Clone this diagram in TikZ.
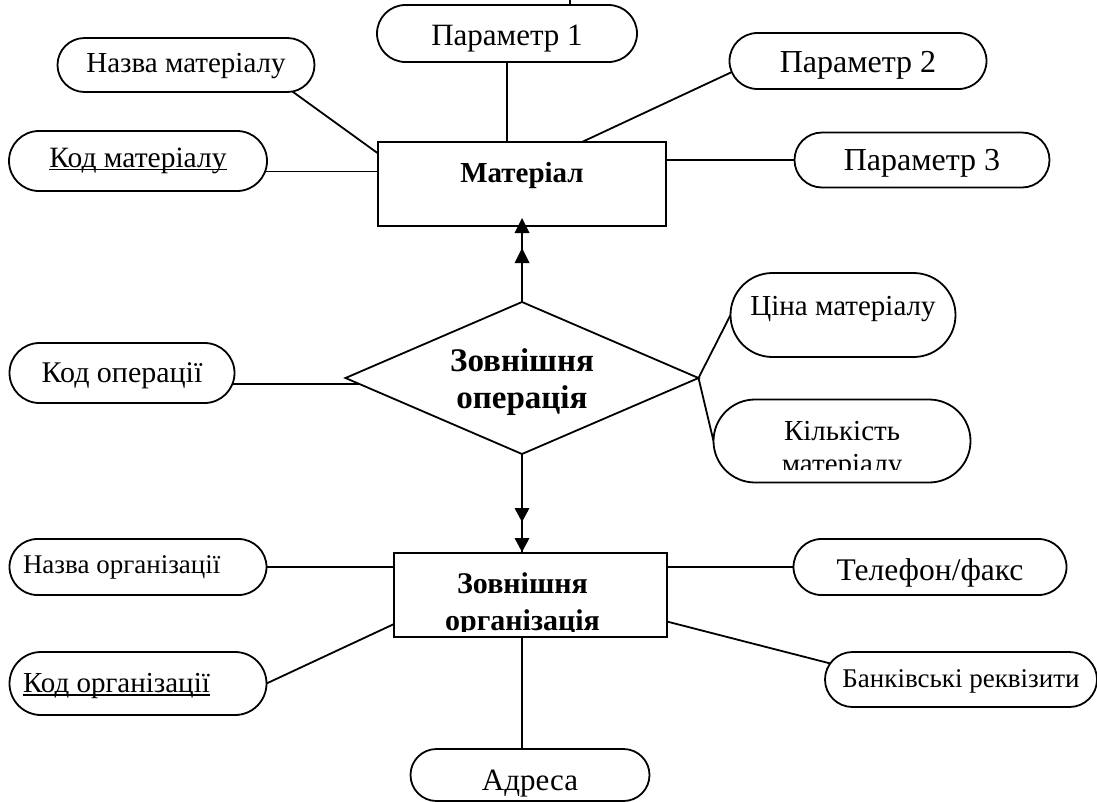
\documentclass[tikz,border=0pt]{standalone}
\usepackage{fontspec}
\setmainfont{Liberation Serif}
\usetikzlibrary{shapes.misc,shapes.geometric,backgrounds,calc}

% zero-width text so the shape keeps its own size
\newcommand\zw[1]{\makebox[0pt]{#1}}
% text starting at a given offset from the node centre
\newcommand\zwl[2]{\makebox[0pt][l]{\hspace{#1}#2}}
% underline close to the baseline
\newcommand\wordul[1]{\setbox0\hbox{#1}\rlap{\rule[-3pt]{\wd0}{1.4pt}}\box0}

\begin{document}
\begin{tikzpicture}[x=1pt,y=-1pt,line width=1.8pt,
  fs/.style={font=\fontsize{#1}{#1}\selectfont},
  fb/.style={font=\bfseries\fontsize{#1}{#1}\selectfont},
  bl/.code={\pgfmathsetmacro\blh{20+#1}\pgfmathsetmacro\bld{20-#1}%
    \edef\tmp{\noexpand\tikzset{text height=\blh pt, text depth=\bld pt}}\tmp},
  attr/.style={rounded rectangle, draw, fill=white, inner sep=0pt, outer sep=0pt},
  ent/.style={rectangle, draw, fill=white, inner sep=0pt, outer sep=0pt},
  rel/.style={diamond, draw, fill=white, inner sep=0pt, outer sep=0pt},
  link/.style={line width=1.8pt},
  thick link/.style={line width=2.3pt},
  headup/.pic={\fill (0,0) -- (-7.5,15) -- (7.5,15) -- cycle;},
  headdown/.pic={\fill (0,0) -- (-7.5,-14) -- (7.5,-14) -- cycle;}
]
\useasboundingbox (0,0) rectangle (1097,801);

% entities and relationship
\node[ent, minimum width=288pt, minimum height=84pt, fb=29, bl=-2] (mat) at (522,184) {Матеріал};
\node[rel, minimum width=353pt, minimum height=152pt] (op) at (522,378) {};
\node[fb=33, anchor=base] (opt1) at ($(op.center)+(0,-7)$) {Зовнішня};
\node[fb=33, anchor=base] (opt2) at ($(op.center)+(0,30)$) {операція};
\node[ent, minimum width=273pt, minimum height=84pt] (org) at (530.5,595) {};
\begin{scope}
  \clip (org.north west) rectangle ($(org.south east)+(0,-6)$);
  \node[fb=30, anchor=base] (orgt1) at ($(org.center)+(-8,-2)$) {Зовнішня};
  \node[fb=30, anchor=base] (orgt2) at ($(org.center)+(-8,35)$) {організація};
\end{scope}

% attributes of the material
\node[attr, minimum width=260pt, minimum height=57pt, fs=31, bl=11.5] (p1) at (507,33.5) {\zw{Параметр 1}};
\node[attr, minimum width=257pt, minimum height=54pt, fs=29, bl=7] (nm) at (186,65) {\zw{Назва матеріалу}};
\node[attr, minimum width=258pt, minimum height=60pt, fs=29.5, bl=6] (km) at (138,161) {\zw{\wordul{Код матеріалу}}};
\node[attr, minimum width=257pt, minimum height=56pt, fs=32, bl=11] (p2) at (858,61) {\zw{Параметр 2}};
\node[attr, minimum width=255pt, minimum height=55pt, fs=32, bl=10] (p3) at (922,160) {\zw{Параметр 3}};

% attributes of the operation
\node[attr, minimum width=225pt, minimum height=60pt, fs=30, bl=9] (kop) at (122,373) {\zw{Код операції}};
\node[attr, minimum width=225pt, minimum height=84pt, fs=29, bl=0] (cm) at (843,315) {\zw{Ціна матеріалу}};
\node[attr, minimum width=257pt, minimum height=83pt] (kil) at (842,441) {};
\begin{scope}
  \clip (kil.north west) rectangle ($(kil.south east)+(0,-13)$);
  \node[fs=29, anchor=base] (kilt1) at ($(kil.center)+(0,-1)$) {Кількість};
  \node[fs=29, anchor=base] (kilt2) at ($(kil.center)+(0,32)$) {матеріалу};
\end{scope}

% attributes of the organisation
\node[attr, minimum width=257pt, minimum height=56pt, fs=27, bl=6] (no) at (138,567) {\zwl{-115pt}{Назва організації}};
\node[attr, minimum width=257pt, minimum height=63pt, fs=29, bl=9] (ko) at (138,683.5) {\zwl{-115pt}{\wordul{Код організації}}};
\node[attr, minimum width=273pt, minimum height=56pt, fs=31.5, bl=13] (tel) at (930,567) {\zw{Телефон/факс}};
\node[attr, minimum width=272pt, minimum height=55pt, fs=27, bl=8] (bank) at (961,679.5) {\zw{Банківські реквізити}};
\node[attr, minimum width=239pt, minimum height=52pt, fs=31, bl=15] (adr) at (530,775) {\zw{Адреса}};

% connectors (the layer does not inherit the line width, so it is set here)
\begin{scope}[on background layer]
  \begin{scope}[link]
    \draw ($(p1.north)+(63,0)$) -- ++(0,-8);
    \draw (p1.center) -- (p1.center |- mat.north);
    \draw (nm.-14) -- (mat.168.6);
    \draw (km.center |- mat.175.6) -- (mat.175.6);
    \draw (mat.35) -- (p2.185.4);
    \draw (p3.center) -- (p3.center -| mat.east);
    \draw (kop.center |- op.182.5) -- (op.182.5);
    \draw (op.east) -- (cm.west);
    \draw (op.east) -- (kil.west);
    \draw (no.center) -- (no.center -| org.west);
    \draw (ko.east) -- (org.192);
    \draw (tel.center) -- (tel.center -| org.east);
    \draw (org.-11.6) -- (bank.173.7);
    \draw (op.south |- org.south) -- (op.south |- adr.north);
  \end{scope}
  \draw[thick link] (op.north) -- (mat.south);
  \draw[thick link] (op.south) -- (op.south |- org.north);
\end{scope}

% double arrow heads on the two relationship links
\pic at ($(mat.south)+(0,-8)$) {headup};
\pic at ($(mat.south)+(0,22)$) {headup};
\pic at ($(op.south |- org.north)+(0,-31)$) {headdown};
\pic at ($(op.south |- org.north)+(0,-1)$) {headdown};
\end{tikzpicture}
\end{document}
